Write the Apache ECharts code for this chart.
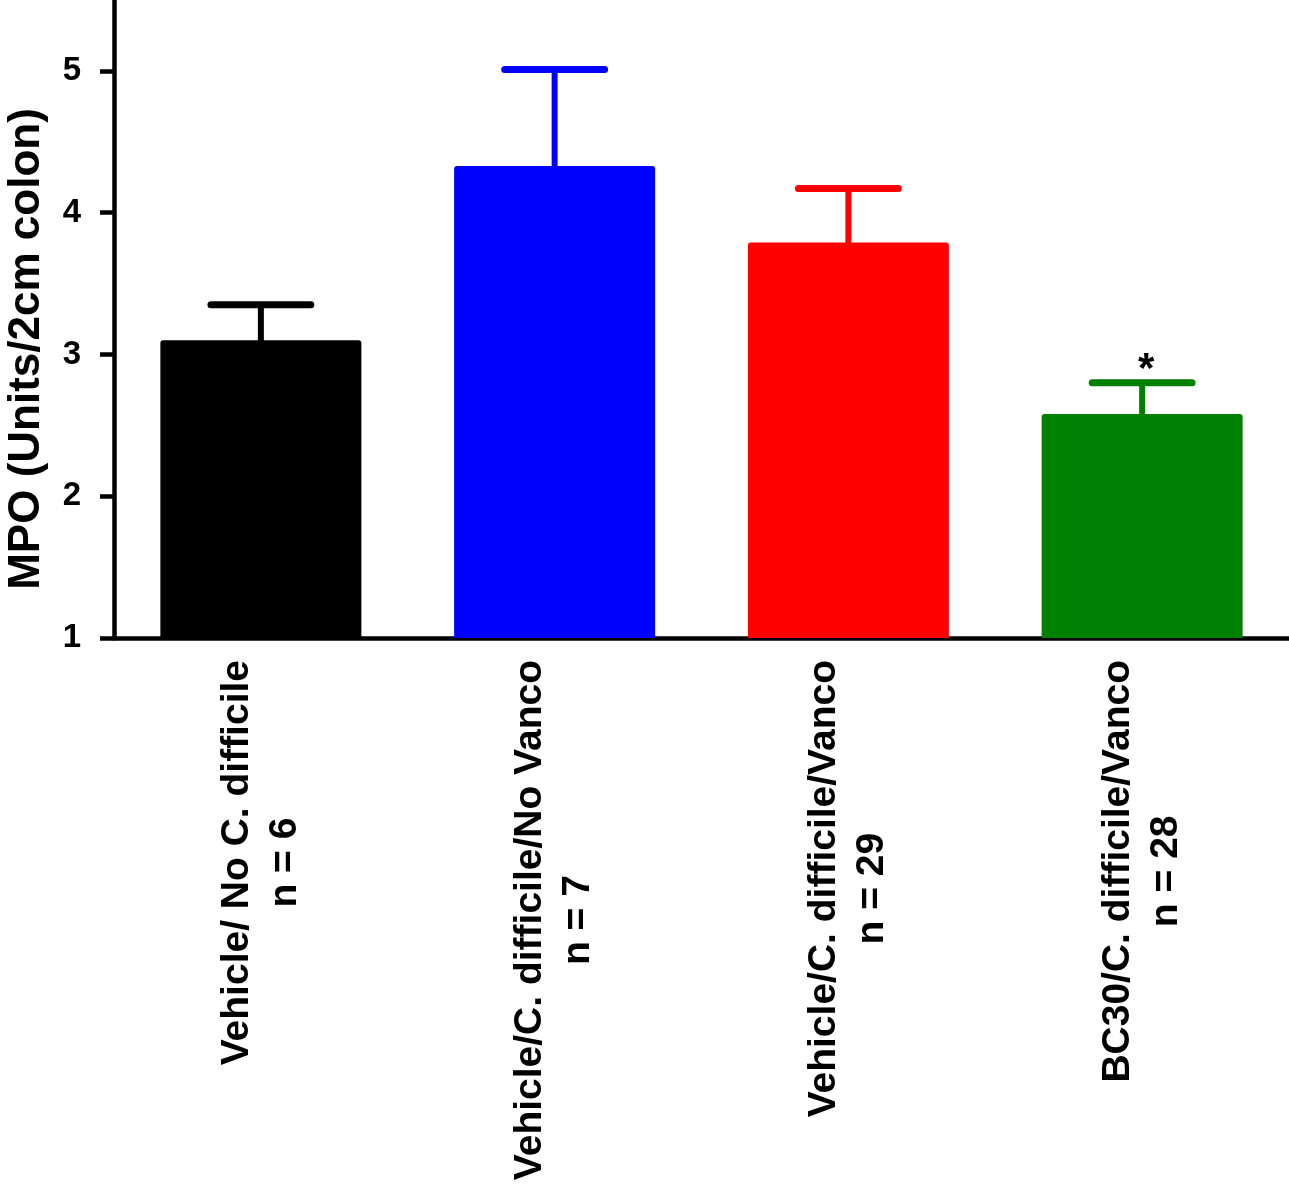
<!DOCTYPE html>
<html>
<head>
<meta charset="utf-8">
<script src="https://cdn.jsdelivr.net/npm/echarts@6/dist/echarts.min.js"></script>
<style>
html,body{margin:0;padding:0;background:#fff;}
#chart{width:1289px;height:1200px;}
</style>
</head>
<body>
<div id="chart"></div>
<script>
const categories = ['Vehicle/ No C. difficile', 'Vehicle/C. difficile/No Vanco', 'Vehicle/C. difficile/Vanco', 'BC30/C. difficile/Vanco'];
const groupSizes = ['n = 6', 'n = 7', 'n = 29', 'n = 28'];
const meanValues = [3.10, 4.33, 3.79, 2.58];
const semValues = [0.25, 0.68, 0.38, 0.22];
const barColors = ['#000000', '#0000ff', '#ff0000', '#008000'];
const significance = ['', '', '', '*'];
const yTicks = [1, 2, 3, 4, 5];
const yTitle = 'MPO (Units/2cm colon)';

const FONT = "'Liberation Sans', Arial, Helvetica, sans-serif";
const chart = echarts.init(document.getElementById('chart'));

const option = {
  animation: false,
  backgroundColor: '#ffffff',
  grid: { left: 114, right: 0, top: 0, bottom: 562, containLabel: false },
  graphic: [
    {
      type: 'text',
      x: 27,
      y: 349,
      rotation: Math.PI / 2,
      style: { text: yTitle, align: 'center', verticalAlign: 'middle', fontSize: 44, fontWeight: 'bold', fontFamily: FONT, fill: '#000' }
    }
  ],
  xAxis: {
    type: 'category',
    data: categories.map((c, i) => c + '\n' + groupSizes[i]),
    axisLine: { onZero: false, lineStyle: { color: '#000', width: 4.5 } },
    axisTick: { alignWithLabel: true, length: 14, lineStyle: { color: '#000', width: 4.5 } },
    axisLabel: {
      interval: 0,
      rotate: 90,
      margin: 22,
      formatter: v => v.split('\n').map(s => '{a|' + s + '}').join('\n'),
      rich: {
        a: { align: 'center', fontSize: 39, fontWeight: 'bold', fontFamily: FONT, color: '#000', lineHeight: 48 }
      }
    },
    splitLine: { show: false }
  },
  yAxis: {
    type: 'value',
    min: 1,
    max: 5.5,
    interval: 1,
    axisLine: { show: true, lineStyle: { color: '#000', width: 4.5 } },
    axisTick: { show: true, length: 14, customValues: yTicks, lineStyle: { color: '#000', width: 4.5 } },
    axisLabel: { margin: 33, customValues: yTicks, fontSize: 33, fontWeight: 'bold', fontFamily: FONT, color: '#000' },
    splitLine: { show: false }
  },
  series: [
    {
      type: 'bar',
      barWidth: 201,
      data: meanValues.map((v, i) => ({ value: v, itemStyle: { color: barColors[i], borderRadius: [3, 3, 0, 0] } })),
      z: 2
    },
    {
      type: 'custom',
      z: 3,
      data: meanValues.map((m, i) => [i, m, m + semValues[i]]),
      renderItem: function (params, api) {
        const i = api.value(0);
        const base = api.coord([i, api.value(1)]);
        const top = api.coord([i, api.value(2)]);
        const half = api.size([1, 0])[0] * 0.17;
        const color = barColors[i];
        const children = [
          { type: 'line', shape: { x1: base[0], y1: base[1] + 2, x2: top[0], y2: top[1] }, style: { stroke: color, lineWidth: 6 } },
          { type: 'line', shape: { x1: top[0] - half, y1: top[1], x2: top[0] + half, y2: top[1] }, style: { stroke: color, lineWidth: 7, lineCap: 'round' } }
        ];
        if (significance[i]) {
          children.push({
            type: 'text',
            style: { text: significance[i], x: top[0] + 4, y: top[1] - 12, align: 'center', verticalAlign: 'middle', fontSize: 42, fontWeight: 'bold', fontFamily: FONT, fill: '#000' }
          });
        }
        return { type: 'group', children: children };
      }
    }
  ]
};
chart.setOption(option);
</script>
</body>
</html>
